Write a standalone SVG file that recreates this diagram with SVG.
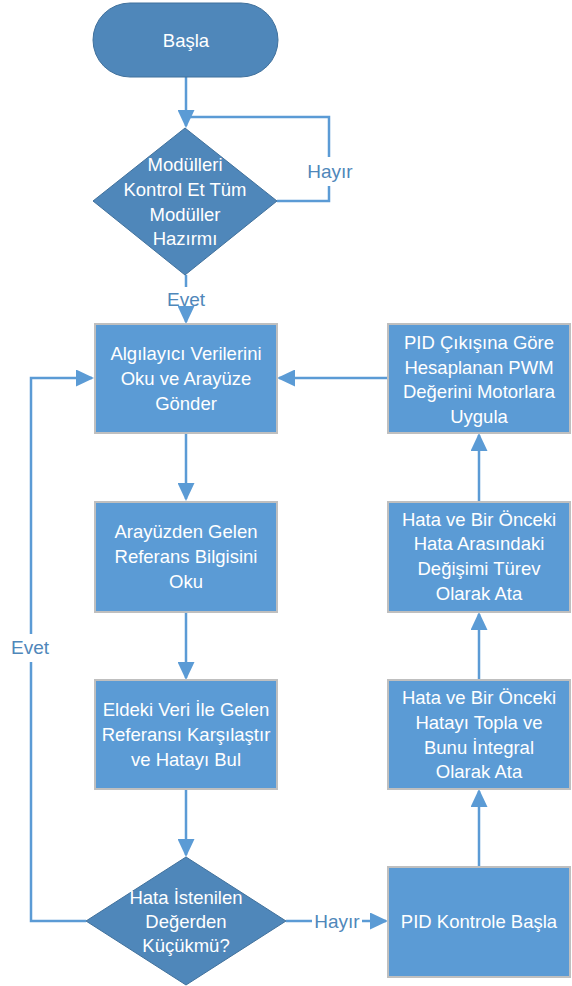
<svg xmlns="http://www.w3.org/2000/svg" width="572" height="986" viewBox="0 0 572 986">
<style>
.box{fill:#5b9bd5;stroke:#bfbfbf;stroke-width:2}
.dec{fill:#4f87ba;stroke:#41719c;stroke-width:1}
.t{font-family:"Liberation Sans",Arial,sans-serif;font-size:18.5px;fill:#ffffff;text-anchor:middle}
.lbl{font-family:"Liberation Sans",Arial,sans-serif;font-size:19px;fill:#4f87ba;text-anchor:middle}
.c{fill:none;stroke:#5b9bd5;stroke-width:2.5}
</style>
<defs>
<marker id="ar" viewBox="0 0 18 17" refX="16" refY="8.5" markerWidth="18" markerHeight="17" markerUnits="userSpaceOnUse" orient="auto">
<path d="M0,0 L18,8.5 L0,17 Z" fill="#5b9bd5"/>
</marker>
</defs>
<rect width="572" height="986" fill="#ffffff"/>
<g id="connectors">
<path class="c" d="M186,77 V126" marker-end="url(#ar)"/>
<path class="c" d="M277,201 H329 V186"/>
<path class="c" d="M329,157 V117 H186"/>
<path class="c" d="M186,275 V287"/>
<path class="c" d="M186,312 V322" marker-end="url(#ar)"/>
<path class="c" d="M186,433 V499" marker-end="url(#ar)"/>
<path class="c" d="M186,612 V678" marker-end="url(#ar)"/>
<path class="c" d="M186,789 V855" marker-end="url(#ar)"/>
<path class="c" d="M86,921 H31 V662"/>
<path class="c" d="M31,634 V378 H92" marker-end="url(#ar)"/>
<path class="c" d="M286,921 H312"/>
<path class="c" d="M362,921 H386" marker-end="url(#ar)"/>
<path class="c" d="M479,867 V791" marker-end="url(#ar)"/>
<path class="c" d="M479,680 V614" marker-end="url(#ar)"/>
<path class="c" d="M479,502 V435" marker-end="url(#ar)"/>
<path class="c" d="M388,378 H279" marker-end="url(#ar)"/>
<text class="lbl" x="330" y="178">Hayır</text>
<text class="lbl" x="186" y="306">Evet</text>
<text class="lbl" x="30" y="654">Evet</text>
<text class="lbl" x="337" y="928">Hayır</text>
</g>
<g id="start">
<rect class="dec" x="93" y="3" width="185" height="74" rx="37" ry="37"/>
<text class="t" x="186" y="47">Başla</text>
</g>
<g id="check-modules">
<polygon class="dec" points="185,128 277,201 185,275 93,201"/>
<text class="t" x="185" y="171">Modülleri</text>
<text class="t" x="185" y="196">Kontrol Et Tüm</text>
<text class="t" x="185" y="221">Modüller</text>
<text class="t" x="185" y="245">Hazırmı</text>
</g>
<g id="read-sensors">
<rect class="box" x="95" y="324" width="182" height="109"/>
<text class="t" x="186" y="360">Algılayıcı Verilerini</text>
<text class="t" x="186" y="385">Oku ve Arayüze</text>
<text class="t" x="186" y="410">Gönder</text>
</g>
<g id="read-reference">
<rect class="box" x="95" y="502" width="182" height="110"/>
<text class="t" x="186" y="538">Arayüzden Gelen</text>
<text class="t" x="186" y="563">Referans Bilgisini</text>
<text class="t" x="186" y="588">Oku</text>
</g>
<g id="compare">
<rect class="box" x="95" y="680" width="182" height="109"/>
<text class="t" x="186" y="716">Eldeki Veri İle Gelen</text>
<text class="t" x="186" y="741">Referansı Karşılaştır</text>
<text class="t" x="186" y="766">ve Hatayı Bul</text>
</g>
<g id="error-check">
<polygon class="dec" points="186,857 286,921 186,985 86,921"/>
<text class="t" x="186" y="904">Hata İstenilen</text>
<text class="t" x="186" y="928">Değerden</text>
<text class="t" x="186" y="952">Küçükmü?</text>
</g>
<g id="pid-start">
<rect class="box" x="388" y="867" width="182" height="110"/>
<text class="t" x="479" y="928">PID Kontrole Başla</text>
</g>
<g id="integral">
<rect class="box" x="388" y="680" width="182" height="109"/>
<text class="t" x="479" y="704">Hata ve Bir Önceki</text>
<text class="t" x="479" y="729">Hatayı Topla ve</text>
<text class="t" x="479" y="754">Bunu İntegral</text>
<text class="t" x="479" y="778">Olarak Ata</text>
</g>
<g id="derivative">
<rect class="box" x="388" y="502" width="182" height="110"/>
<text class="t" x="479" y="526">Hata ve Bir Önceki</text>
<text class="t" x="479" y="550">Hata Arasındaki</text>
<text class="t" x="479" y="575">Değişimi Türev</text>
<text class="t" x="479" y="600">Olarak Ata</text>
</g>
<g id="apply-pwm">
<rect class="box" x="388" y="324" width="182" height="109"/>
<text class="t" x="479" y="349">PID Çıkışına Göre</text>
<text class="t" x="479" y="374">Hesaplanan PWM</text>
<text class="t" x="479" y="398">Değerini Motorlara</text>
<text class="t" x="479" y="423">Uygula</text>
</g>
</svg>
